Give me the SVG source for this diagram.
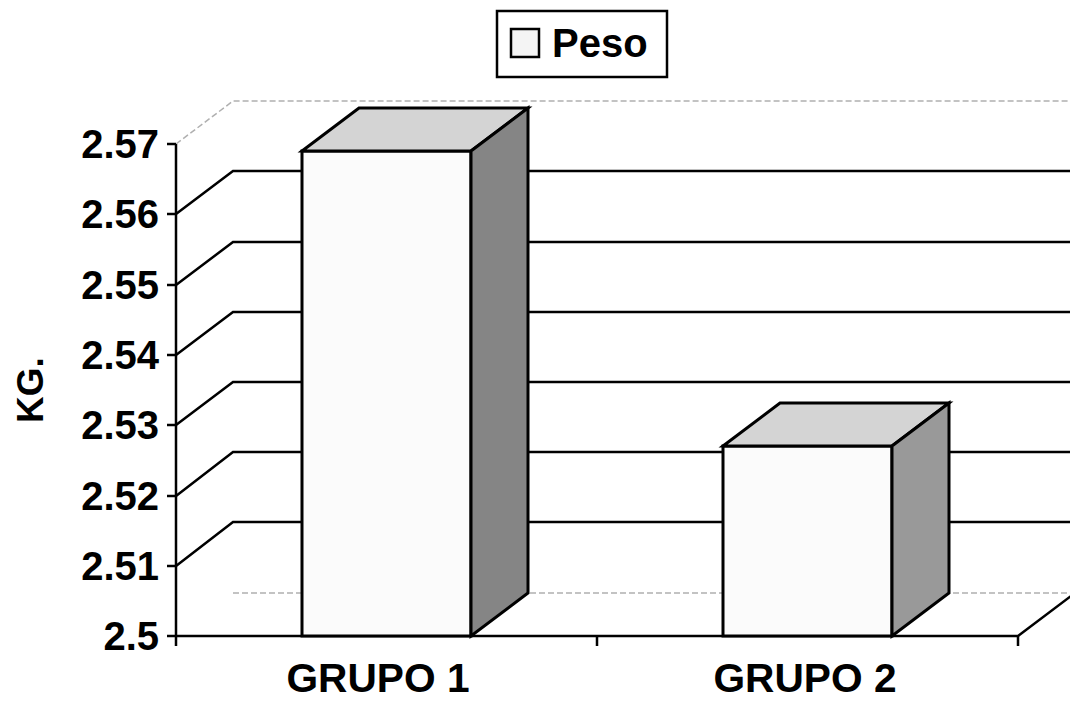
<svg xmlns="http://www.w3.org/2000/svg" width="1070" height="704" viewBox="0 0 1070 704">
<style>
.t{font-family:"Liberation Sans",Arial,sans-serif;font-weight:bold;font-size:40px;fill:#000}
.ax{stroke:#000;stroke-width:2.5;fill:none}
.grid{stroke:#000;stroke-width:2.5;fill:none}
.wall{stroke:#b0b0b0;stroke-width:1.5;fill:none;stroke-dasharray:6 3}
.edge{stroke:#000;stroke-width:3;stroke-linejoin:miter}
.front{fill:#fbfbfb}
.top{fill:#d4d4d4}
.side{fill:#858585}
</style>
<rect width="1070" height="704" fill="#fff"/>
<g id="walls">
<path class="wall" d="M176,144 L233,101 L1070,101"/>
<path class="wall" d="M233,593 L1070,593"/>
</g>
<g id="gridlines">
<path class="grid" d="M176,214 L233,171 L1070,171"/>
<path class="grid" d="M176,285 L233,242 L1070,242"/>
<path class="grid" d="M176,355 L233,312 L1070,312"/>
<path class="grid" d="M176,425 L233,382 L1070,382"/>
<path class="grid" d="M176,496 L233,452 L1070,452"/>
<path class="grid" d="M176,566 L233,522 L1070,522"/>
</g>
<g id="axes">
<path class="ax" d="M176,144 L176,646"/>
<path class="ax" d="M167,144 H176 M167,214 H176 M167,285 H176 M167,355 H176 M167,425 H176 M167,496 H176 M167,566 H176 M167,636 H176"/>
<path class="ax" d="M176,636 H1018 L1075,593"/>
<path class="ax" d="M597,636 V646 M1018,636 V646"/>
</g>
<g id="bar-grupo1">
<rect class="front edge" x="302" y="151" width="169" height="485"/>
<polygon class="top edge" points="302,151 359,108 528,108 471,151"/>
<polygon class="side edge" points="471,151 528,108 528,593 471,636"/>
</g>
<g id="bar-grupo2">
<rect class="front edge" x="723" y="446" width="169" height="190"/>
<polygon class="top edge" points="723,446 780,403 949,403 892,446"/>
<polygon class="side edge" points="892,446 949,403 949,593 892,636" style="fill:#999"/>
</g>
<g id="y-labels">
<text class="t" x="159" y="158" text-anchor="end">2.57</text>
<text class="t" x="159" y="228" text-anchor="end">2.56</text>
<text class="t" x="159" y="299" text-anchor="end">2.55</text>
<text class="t" x="159" y="369" text-anchor="end">2.54</text>
<text class="t" x="159" y="439" text-anchor="end">2.53</text>
<text class="t" x="159" y="510" text-anchor="end">2.52</text>
<text class="t" x="159" y="580" text-anchor="end">2.51</text>
<text class="t" x="159" y="650" text-anchor="end">2.5</text>
</g>
<g id="y-title">
<text class="t" style="font-size:37px" x="0" y="0" text-anchor="middle" transform="translate(43,390) rotate(-90)">KG.</text>
</g>
<g id="x-labels">
<text class="t" x="378" y="692" text-anchor="middle" textLength="183" lengthAdjust="spacingAndGlyphs">GRUPO 1</text>
<text class="t" x="805" y="692" text-anchor="middle" textLength="183" lengthAdjust="spacingAndGlyphs">GRUPO 2</text>
</g>
<g id="legend">
<rect x="497" y="11" width="170" height="66" fill="#fff" stroke="#000" stroke-width="2.5"/>
<rect x="511" y="29" width="28" height="28" fill="#f4f4f4" stroke="#000" stroke-width="2.5"/>
<text class="t" x="552" y="57">Peso</text>
</g>
</svg>
